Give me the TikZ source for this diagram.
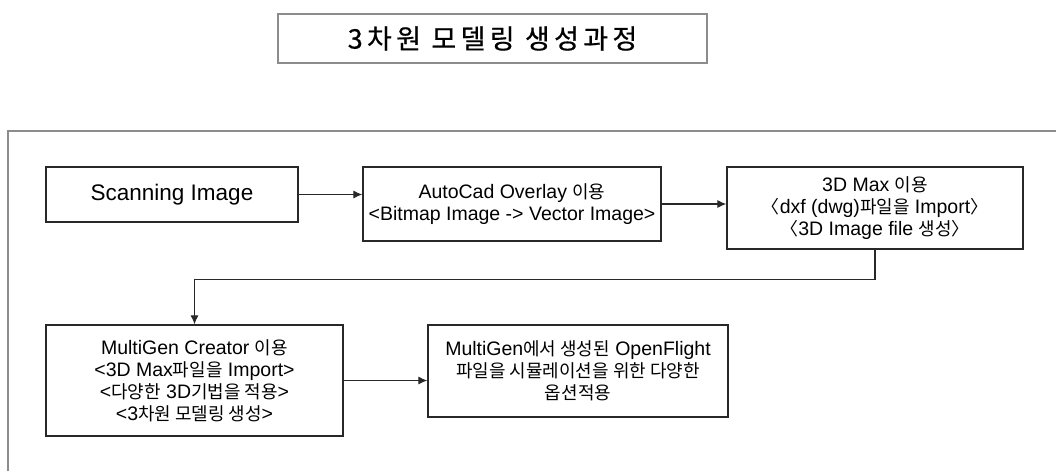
\documentclass[tikz,border=0pt]{standalone}
\usepackage{fontspec}
\setmainfont{Liberation Sans}
\newfontfamily\kr[Scale=0.92]{Noto Sans CJK KR}
\newfontfamily\krtitle[LetterSpace=16,FakeBold=0.6]{Noto Sans CJK KR}
\usetikzlibrary{arrows.meta}
\definecolor{boxline}{RGB}{40,40,40}
\definecolor{frameline}{RGB}{140,140,140}

\begin{document}
\begin{tikzpicture}[x=1pt,y=-1pt,
  stepbox/.style={draw=boxline, line width=1.3pt, align=center, inner sep=0pt,
    font=\fontsize{19.5}{22}\selectfont},
  titlebox/.style={draw=frameline, line width=1.6pt, inner sep=0pt,
    font=\fontsize{27}{30}\selectfont},
  flow/.style={-{Latex[length=9pt,width=8pt]}, line width=1.1pt, draw=boxline}]
\useasboundingbox (0,0) rectangle (1056,471);
% title and outer frame
\node[titlebox, minimum width=429, minimum height=49] (title) at (492.5,38.5) {\krtitle 3차원 모델링 생성과정};
\draw[frameline, line width=1.6pt] (8,471) -- (8,131) -- (1056,131);
% first row
\node[stepbox, minimum width=252, minimum height=55, font=\fontsize{22.5}{24}\selectfont] (scan) at (172,194.5) {Scanning Image};
\node[stepbox, minimum width=298, minimum height=74] (autocad) at (512,204)
  {AutoCad Overlay {\kr 이용}\\<Bitmap Image -> Vector Image>};
\node[stepbox, minimum width=296, minimum height=82] (max) at (875,208)
  {3D Max {\kr 이용}\\{\kr 〈}dxf (dwg){\kr 파일을} Import{\kr 〉}\\{\kr 〈}3D Image file {\kr 생성〉}};
% second row
\node[stepbox, minimum width=297, minimum height=111] (multigen) at (194.5,380.5)
  {MultiGen Creator {\kr 이용}\\<3D Max{\kr 파일을} Import>\\<{\kr 다양한} 3D{\kr 기법을 적용}>\\<3{\kr 차원 모델링 생성}>};
\node[stepbox, minimum width=300, minimum height=92] (opt) at (578,371)
  {MultiGen{\kr 에서 생성된} OpenFlight\\{\kr 파일을 시뮬레이션을 위한 다양한}\\{\kr 옵션적용}};
% connectors
\draw[flow] (scan.east) -- (scan.east -| autocad.west);
\draw[flow] (autocad.east) -- (max.west |- autocad.east);
\draw[flow] (max.south) -- ++(0,30) -| (multigen.north);
\draw[flow] (multigen.east) -- (opt.west |- multigen.east);
\end{tikzpicture}
\end{document}
